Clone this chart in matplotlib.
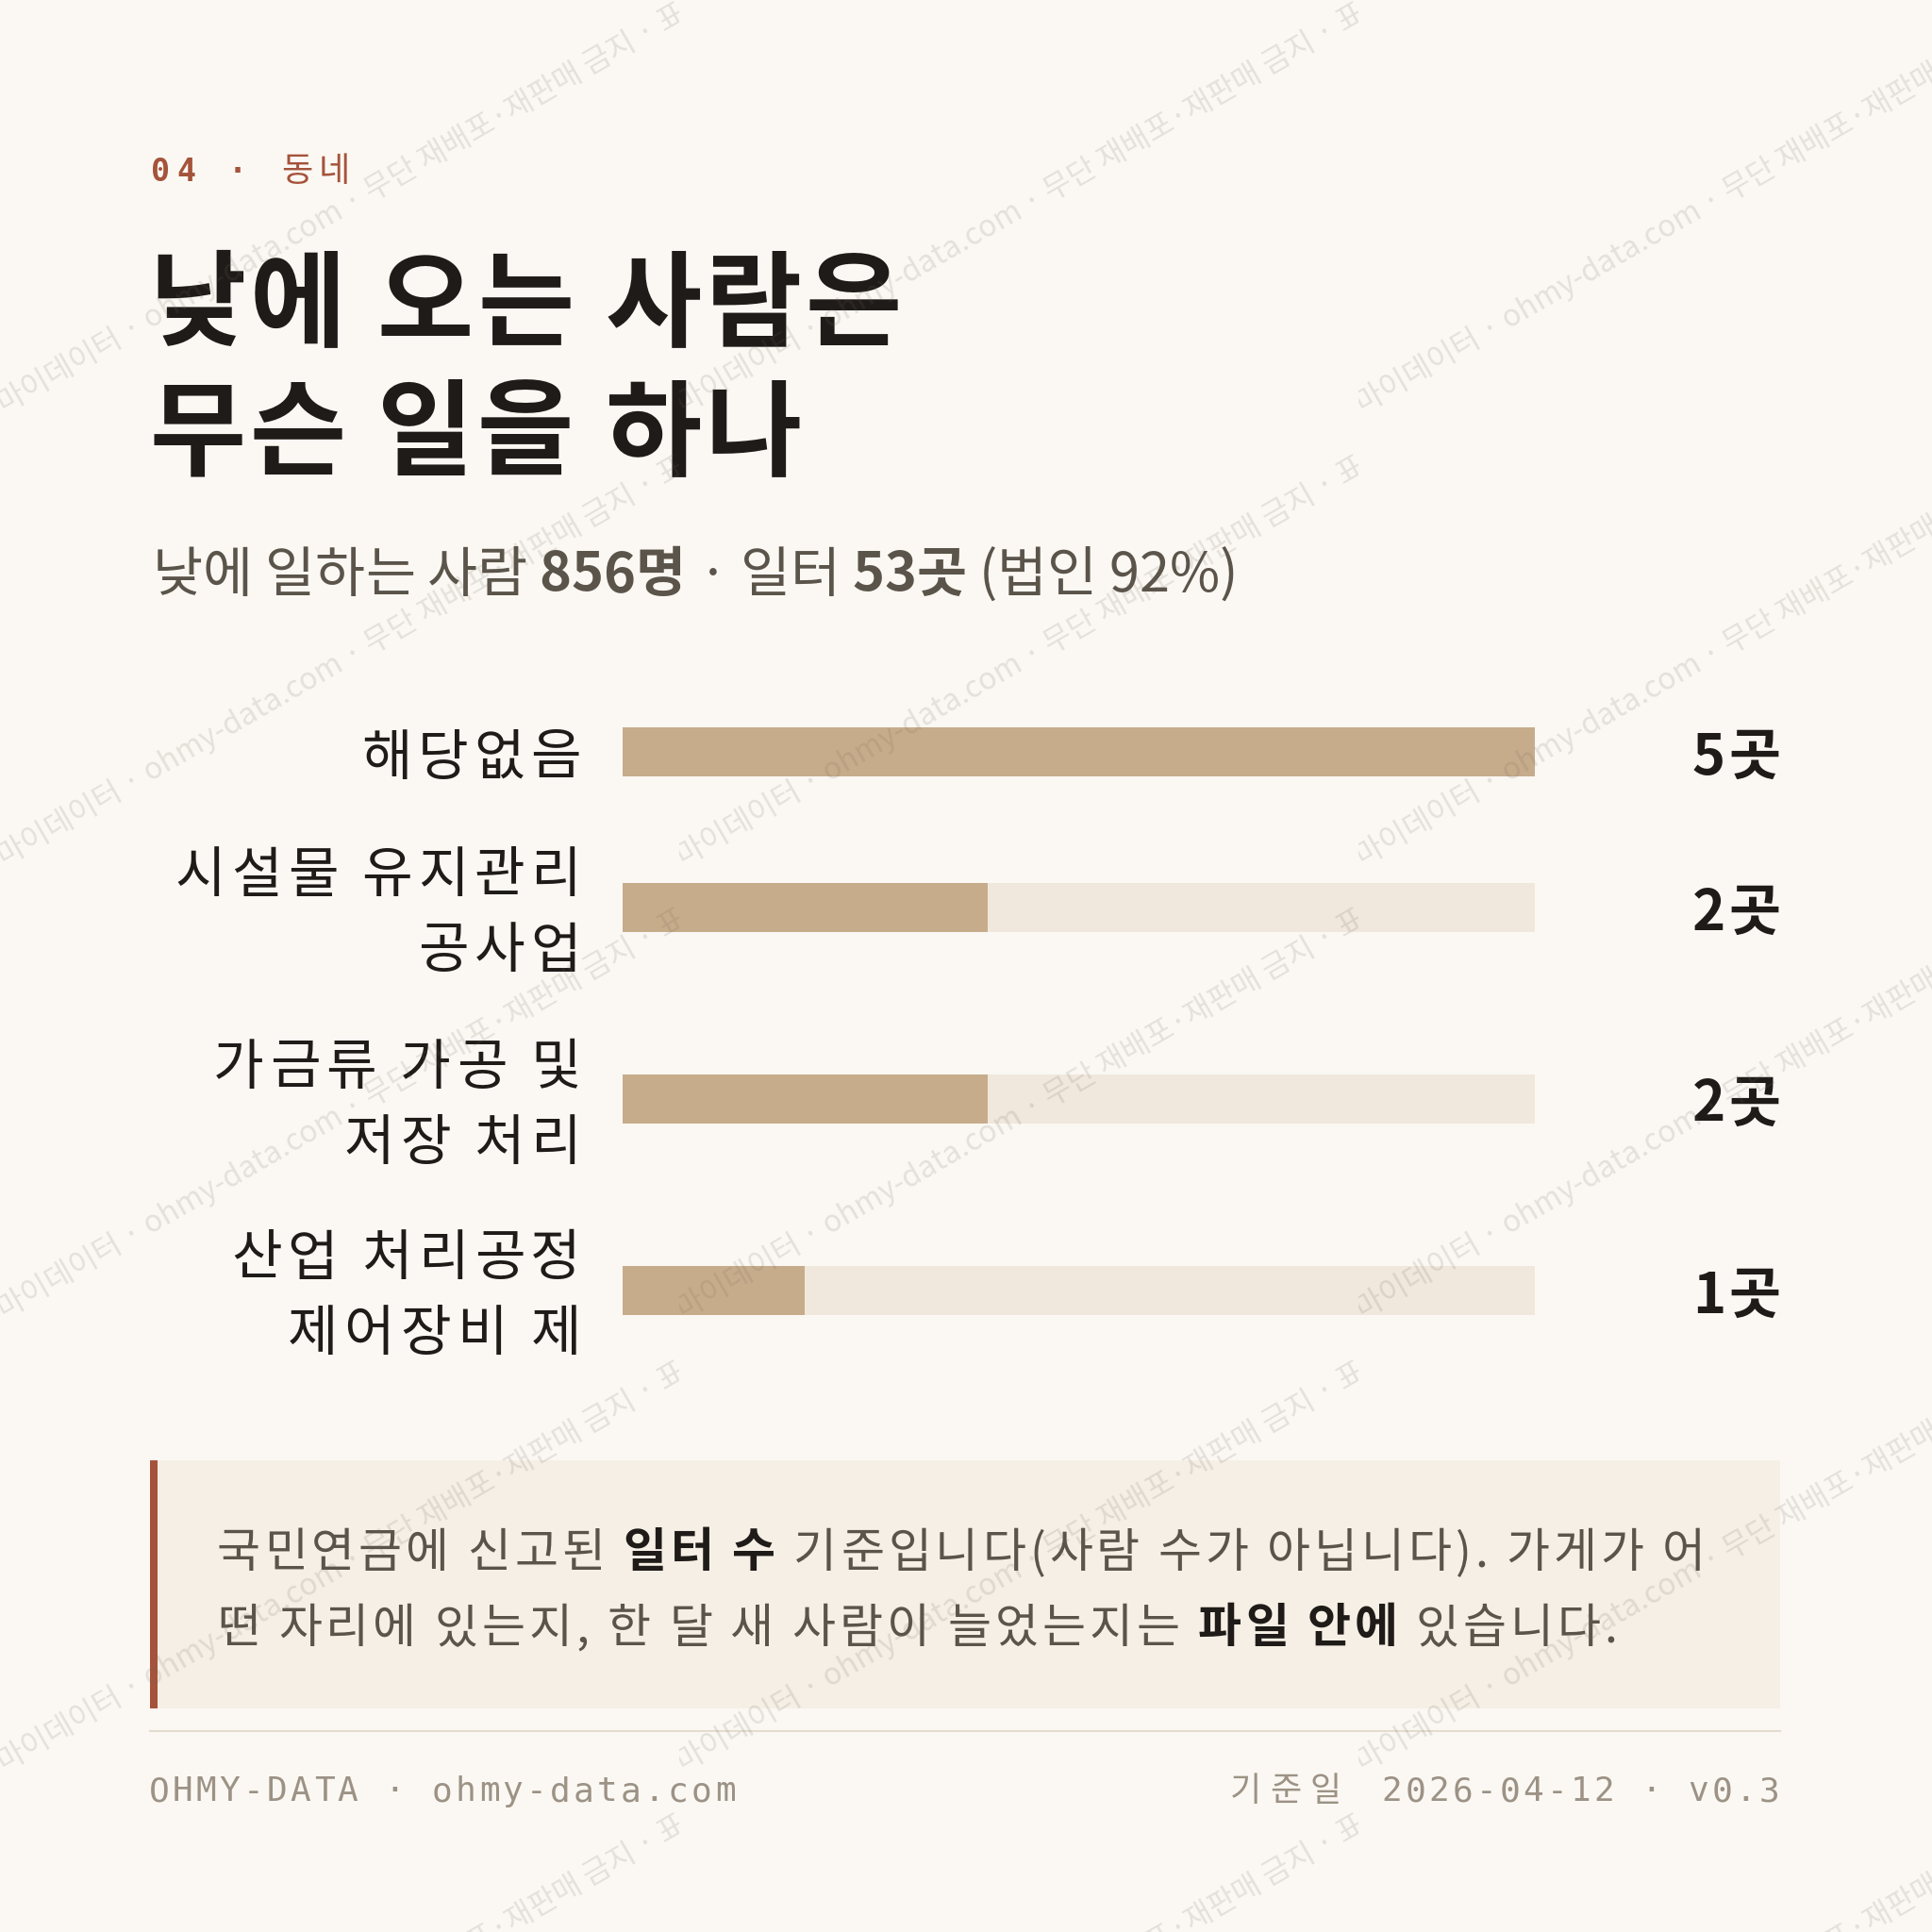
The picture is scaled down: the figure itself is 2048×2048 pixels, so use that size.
import math
import matplotlib
matplotlib.use("Agg")
import matplotlib.pyplot as plt
from matplotlib.patches import Rectangle
from matplotlib.lines import Line2D
from matplotlib.transforms import Affine2D, Bbox, TransformedBbox, blended_transform_factory

# ---------------- data ----------------
categories = ["해당없음", "시설물 유지관리\n공사업", "가금류 가공 및\n저장 처리", "산업 처리공정\n제어장비 제"]
counts = [5, 2, 2, 1]
unit = "곳"

kicker_num = "04"
kicker_topic = "동네"
title_lines = ["낮에 오는 사람은", "무슨 일을 하나"]
subtitle_runs = [("낮에 일하는 사람", False), ("856명", True), ("·", False),
                 ("일터", False), ("53곳", True), ("(법인 92%)", False)]
note_lines = [
    [("국민연금에 신고된", False), ("일터 수", True), ("기준입니다(사람 수가 아닙니다). 가게가 어", False)],
    [("떤 자리에 있는지, 한 달 새 사람이 늘었는지는", False), ("파일 안에", True), ("있습니다.", False)],
]
footer_left = "OHMY-DATA · ohmy-data.com"
footer_date_label = "기준일"
footer_right = "2026-04-12 · v0.3"
watermark_prefix = "표본 · "
watermark = "마이데이터 · ohmy-data.com · 무단 재배포·재판매 금지 · 표본 · 마이데이터"

# ---------------- style ----------------
W = H = 2048
BG = "#fbf8f3"
RUST = "#a5533b"
DARK = "#1f1b18"
GRAY = "#5b544a"
FOOT = "#9c9285"
TRACK = "#f0e8dc"
FILL = "#c7ac8b"
NOTE_BG = "#f6efe5"
SEP = "#e4dccf"
KR = ["Noto Sans CJK KR", "DejaVu Sans"]
MONO = ["DejaVu Sans Mono", "Noto Sans CJK KR"]

plt.rcParams["font.family"] = KR

fig = plt.figure(figsize=(W / 100, H / 100), dpi=100)
fig.patch.set_facecolor(BG)
PX = Affine2D().scale(1 / W, -1 / H).translate(0, 1) + fig.transFigure

fig.canvas.draw()
renderer = fig.canvas.get_renderer()


def txt(x, y, s, **kw):
    kw.setdefault("transform", PX)
    kw.setdefault("va", "baseline")
    return fig.text(x, y, s, **kw)


def width_of(s, **kw):
    t = txt(0, 0, s, **kw)
    w = t.get_window_extent(renderer).width
    t.remove()
    return w


_adv = {}


def advance(ch, size, weight, family):
    key = (ch, size, weight, tuple(family))
    if key not in _adv:
        kw = dict(fontsize=size, fontweight=weight, family=family)
        _adv[key] = width_of("가" + ch + "가", **kw) - width_of("가가", **kw)
    return _adv[key]


def spaced(x, y, s, size, ls, weight="normal", color=DARK, family=KR, ha="left",
           transform=PX, va="baseline", step=None):
    if step is None:
        advs = [advance(c, size, weight, family) for c in s]
    else:
        advs = [step] * len(s)
    total = sum(advs) + ls * (len(s) - 1)
    if ha == "right":
        x -= total
    for c, a in zip(s, advs):
        if c != " ":
            fig.text(x + a / 2, y, c, transform=transform, va=va, ha="center",
                     fontsize=size, fontweight=weight, color=color, family=family)
        x += a + ls
    return x


def runs(x, y, items, size, ls, reg_color, bold_color):
    sp = advance(" ", size, "normal", KR)
    for s, b in items:
        x = spaced(x, y, s, size, ls, weight="bold" if b else "normal",
                   color=bold_color if b else reg_color)
        x += sp + ls
    return x


# ---------------- header ----------------
spaced(157, 192, kicker_num, 24, 0, weight="bold", color=RUST, family=MONO, step=27)
spaced(238, 192, "·", 24, 0, weight="bold", color=RUST, family=MONO, step=27)
spaced(298, 192, kicker_topic, 26, 6, color=RUST)

for i, line in enumerate(title_lines):
    spaced(158, 358 + i * 137, line, 80, 4, weight="bold", color=DARK)

runs(162, 627, subtitle_runs, 41.5, 0, GRAY, GRAY)

# ---------------- bar chart ----------------
LINE_H, GAP = 76, 51
chart_top = 759
nlines = [c.count("\n") + 1 for c in categories]
ypos = []
cur = 0
for i, n in enumerate(nlines):
    h = LINE_H * n
    ypos.append(cur + h / 2)
    cur += h + GAP
chart_h = cur - GAP
x0, x1 = 660, 1627
ax = fig.add_axes([x0 / W, 1 - (chart_top + chart_h) / H, (x1 - x0) / W, chart_h / H])
ax.set_facecolor("none")
vmax = max(counts)
ax.barh(ypos, [vmax] * len(counts), height=52, color=TRACK, zorder=1)
ax.barh(ypos, counts, height=52, color=FILL, zorder=2)
ax.set_xlim(0, vmax)
ax.set_ylim(chart_h, 0)
ax.set_yticks(ypos)
ax.set_yticklabels([])
ax.tick_params(axis="y", length=0)
ax.set_xticks([])
for s in ax.spines.values():
    s.set_visible(False)

lab_tr = blended_transform_factory(PX, ax.transData)
LBL_LINE = 80
for y, cat, c in zip(ypos, categories, counts):
    lines = cat.split("\n")
    n = len(lines)
    for j, ln in enumerate(lines):
        dy = (j - (n - 1) / 2) * LBL_LINE
        spaced(616, y + dy, ln, 42, 6, color=DARK, ha="right", transform=lab_tr,
               va="center_baseline")
    spaced(1887, y, f"{c}{unit}", 43, 3, weight="bold", color=DARK, ha="right",
           transform=lab_tr, va="center_baseline")

# ---------------- note box ----------------
fig.patches.append(Rectangle((159, 1548), 1728, 263, transform=PX, facecolor=NOTE_BG,
                             edgecolor="none", zorder=0))
fig.patches.append(Rectangle((159, 1548), 8, 263, transform=PX, facecolor=RUST,
                             edgecolor="none", zorder=0))
for i, line in enumerate(note_lines):
    runs(230, 1661 + i * 80, line, 36, 4, GRAY, DARK)

# ---------------- footer ----------------
fig.lines.append(Line2D([159, 1887], [1835, 1835], transform=PX, color=SEP, lw=1.5))
spaced(156, 1909, footer_left, 26, 0, color=FOOT, family=MONO, step=25)
spaced(1304, 1909, footer_date_label, 26, 9, color=FOOT)
spaced(1888, 1909, footer_right, 26, 0, color=FOOT, family=MONO, step=25, ha="right")

# ---------------- watermark ----------------
WM_SIZE = 23
pre_w = width_of(watermark_prefix + "마", fontsize=WM_SIZE) - width_of("마", fontsize=WM_SIZE)
cs, sn = math.cos(math.radians(30)), math.sin(math.radians(30))
for k in range(3):
    clip = TransformedBbox(Bbox.from_extents(k * 720 / W, 0, (k + 1) * 720 / W, 1), fig.transFigure)
    for r in range(0, 6):
        sx, sy = k * 720 + 4, 438 + 480 * r
        t = txt(sx - pre_w * cs, sy + pre_w * sn, watermark_prefix + watermark,
                fontsize=WM_SIZE, family=KR, color=(0.43, 0.40, 0.36), alpha=0.16,
                rotation=30, rotation_mode="anchor", ha="left", zorder=10)
        t.set_clip_box(clip)
        t.set_clip_on(True)

fig.savefig("out.png", dpi=100, facecolor=BG)
